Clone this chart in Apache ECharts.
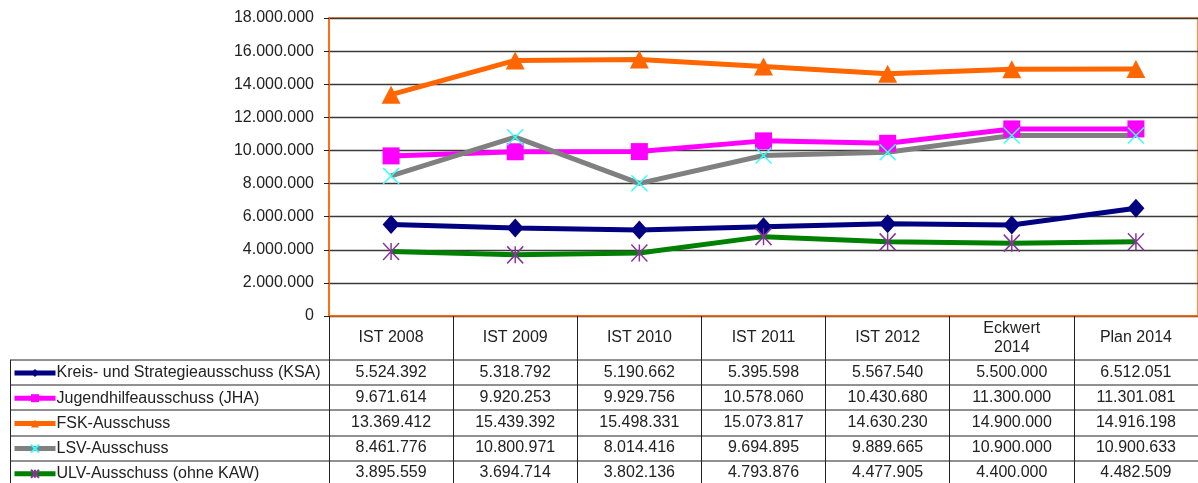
<!DOCTYPE html>
<html>
<head>
<meta charset="utf-8">
<script src="https://cdn.jsdelivr.net/npm/echarts@6/dist/echarts.min.js"></script>
<style>
  html, body { margin: 0; padding: 0; background: #fff; }
  #chart { width: 1198px; height: 483px; }
</style>
</head>
<body>
<div id="chart"></div>
<script>
// Ausschüsse – Entwicklung 2008 bis Plan 2014

var categories = ['IST 2008', 'IST 2009', 'IST 2010', 'IST 2011', 'IST 2012', 'Eckwert\n2014', 'Plan 2014'];
var seriesNames = ['Kreis- und Strategieausschuss (KSA)', 'Jugendhilfeausschuss (JHA)', 'FSK-Ausschuss', 'LSV-Ausschuss', 'ULV-Ausschuss (ohne KAW)'];

var ksa = [5524392, 5318792, 5190662, 5395598, 5567540, 5500000, 6512051];
var jha = [9671614, 9920253, 9929756, 10578060, 10430680, 11300000, 11301081];
var fsk = [13369412, 15439392, 15498331, 15073817, 14630230, 14900000, 14916198];
var lsv = [8461776, 10800971, 8014416, 9694895, 9889665, 10900000, 10900633];
var ulv = [3895559, 3694714, 3802136, 4793876, 4477905, 4400000, 4482509];

var yMax = 18000000;
var yStep = 2000000;

(function () {
    var FONT = 'Liberation Sans, Arial, sans-serif';
    var TXT = '#222';

    // deutsche Tausenderpunkte
    function fmt(v) {
        return String(v).replace(/\B(?=(\d{3})+(?!\d))/g, '.');
    }

    var allData = [ksa, jha, fsk, lsv, ulv];

    // Linien- und Markerstil je Reihe
    var styles = [
        { line: '#000080', symbol: 'diamond', size: [17, 19], fill: '#000080', border: '#000080', bw: 0 },
        { line: '#ff00ff', symbol: 'rect', size: 17, fill: '#ff00ff', border: '#ff00ff', bw: 0 },
        { line: '#ff6600', symbol: 'triangle', size: [19, 18], fill: '#ff6600', border: '#ff6600', bw: 0 },
        { line: '#808080', symbol: 'path://M0,0L10,10M10,0L0,10', size: 16, fill: 'none', border: '#33ffff', bw: 1.5 },
        { line: '#008000', symbol: 'path://M5,0L5,10M0,0L10,10M10,0L0,10', size: [16, 17], fill: 'none', border: '#883399', bw: 1.5 }
    ];

    // Zeilenmitten der Tabelle (relativ zur x-Achse)
    var rowOffsets = [56.5, 81.5, 107, 132, 157];

    var xAxes = [{
        type: 'category',
        data: categories,
        boundaryGap: true,
        axisLine: { show: true, lineStyle: { color: '#ff6600', width: 1.5 } },
        axisTick: { show: true, interval: 0, length: 167, lineStyle: { color: '#222', width: 1 } },
        axisLabel: { interval: 0, margin: 22, verticalAlign: 'middle', fontSize: 16, lineHeight: 19, color: TXT, fontFamily: FONT },
        splitLine: { show: false }
    }];

    allData.forEach(function (arr, i) {
        xAxes.push({
            type: 'category',
            gridIndex: 0,
            position: 'bottom',
            offset: rowOffsets[i],
            data: arr.map(fmt),
            boundaryGap: true,
            axisLine: { show: false },
            axisTick: { show: false },
            axisLabel: { interval: 0, margin: 0, verticalAlign: 'middle', fontSize: 16, color: TXT, fontFamily: FONT },
            splitLine: { show: false }
        });
    });

    var series = allData.map(function (arr, i) {
        var s = styles[i];
        return {
            name: seriesNames[i],
            type: 'line',
            xAxisIndex: 0,
            data: arr,
            symbol: s.symbol,
            symbolSize: s.size,
            showAllSymbol: true,
            lineStyle: { color: s.line, width: 5 },
            itemStyle: { color: s.fill, borderColor: s.border, borderWidth: s.bw },
            emphasis: { disabled: true },
            animation: false
        };
    });

    // Tabellenraster links und horizontal
    var rowLines = [360, 385, 410, 436, 461];
    var graphics = rowLines.map(function (y) {
        return { type: 'line', shape: { x1: 10, y1: y, x2: 1198, y2: y }, style: { stroke: '#222', lineWidth: 1 } };
    });
    graphics.push({ type: 'line', shape: { x1: 10.5, y1: 360, x2: 10.5, y2: 483 }, style: { stroke: '#222', lineWidth: 1 } });

    var myChart = echarts.init(document.getElementById('chart'));
    var option = {
        backgroundColor: '#fff',
        animation: false,
        grid: {
            left: 329, right: 0, top: 18, bottom: 167,
            show: true, borderColor: '#ff6600', borderWidth: 1.5
        },
        legend: {
            orient: 'vertical',
            left: 12,
            top: 365,
            padding: 0,
            itemWidth: 41,
            itemHeight: 10,
            itemGap: 9.2,
            selectedMode: false,
            lineStyle: { width: 5 },
            textStyle: { fontSize: 16, lineHeight: 16, color: TXT, fontFamily: FONT, padding: [0, 0, 0, -4] },
            data: seriesNames
        },
        xAxis: xAxes,
        yAxis: {
            type: 'value',
            min: 0,
            max: yMax,
            interval: yStep,
            axisLine: { show: true, lineStyle: { color: '#ff6600', width: 1.5 } },
            axisTick: { show: true, length: 5, lineStyle: { color: '#222' } },
            axisLabel: { margin: 15, fontSize: 16, color: TXT, fontFamily: FONT, formatter: fmt },
            splitLine: { show: true, lineStyle: { color: '#3a3a3a', width: 1.3 } }
        },
        graphic: graphics,
        series: series
    };
    myChart.setOption(option);

    window.addEventListener('resize', function () {
        myChart.resize();
    });
})();
</script>
</body>
</html>
